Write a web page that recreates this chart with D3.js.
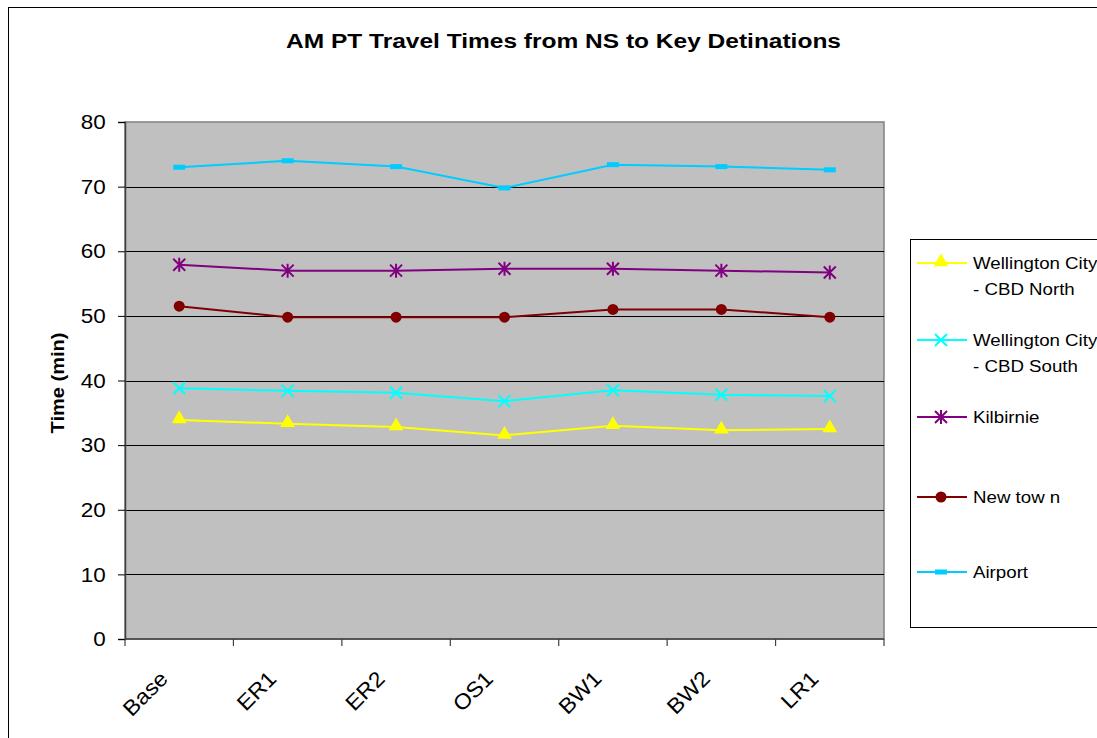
<!DOCTYPE html>
<html><head><meta charset="utf-8">
<script src="https://cdn.jsdelivr.net/npm/d3@7"></script>
<style>body{margin:0;background:#fff}svg{display:block;font-family:Arial,"Liberation Sans",sans-serif}</style>
</head><body>
<svg id="c" width="1097" height="738"></svg>
<script>
const categories = ["Base","ER1","ER2","OS1","BW1","BW2","LR1"];
const cbdNorth  = [33.9,33.3,32.8,31.5,33.0,32.3,32.5];
const cbdSouth  = [38.8,38.4,38.1,36.8,38.5,37.8,37.6];
const kilbirnie = [57.9,57.0,57.0,57.3,57.3,57.0,56.7];
const newtown   = [51.5,49.8,49.8,49.8,51.0,51.0,49.8];
const airport   = [73.0,74.0,73.1,69.8,73.4,73.1,72.6];
const yTicks = [0,10,20,30,40,50,60,70,80];
const seriesNames = ["Wellington City\n- CBD North","Wellington City\n- CBD South","Kilbirnie","New tow n","Airport"];

const series = [
  {name:seriesNames[0], values:cbdNorth, color:"#FFFF00", marker:"triangle"},
  {name:seriesNames[1], values:cbdSouth, color:"#00FFFF", marker:"x"},
  {name:seriesNames[2], values:kilbirnie, color:"#800080", marker:"star"},
  {name:seriesNames[3], values:newtown, color:"#800000", marker:"circle"},
  {name:seriesNames[4], values:airport, color:"#00CCFF", marker:"dash"}
];

const svg = d3.select("#c");
svg.append("rect").attr("x",8.5).attr("y",7.5).attr("width",1200).attr("height",800)
  .attr("fill","#fff").attr("stroke","#000").attr("stroke-width",1);

const L=125, R=884, T=122, B=639;
const x = d3.scaleBand().domain(categories).range([L,R]);
const y = d3.scaleLinear().domain([0,80]).range([B,T]);

svg.append("rect").attr("x",L).attr("y",T).attr("width",R-L).attr("height",B-T)
  .attr("fill","#C0C0C0").attr("stroke","#808080").attr("stroke-width",1.5);

// gridlines
svg.append("g").selectAll("line").data(yTicks.filter(d=>d>0&&d<80)).join("line")
  .attr("x1",L).attr("x2",R).attr("y1",d=>Math.round(y(d))+0.5).attr("y2",d=>Math.round(y(d))+0.5)
  .attr("stroke","#000").attr("stroke-width",1);

// y axis
const ya = svg.append("g").attr("transform",`translate(${L},0)`)
  .call(d3.axisLeft(y).tickValues(yTicks).tickSize(7).tickPadding(11).tickFormat(d3.format("d")));
ya.select(".domain").attr("stroke","#404040").attr("stroke-width",1.5);
ya.selectAll(".tick line").attr("stroke","#000");
ya.selectAll("text").attr("font-size",21).attr("fill","#000").attr("font-family","Arial,'Liberation Sans',sans-serif")
  .attr("transform","scale(1.07,1)");

// x axis with ticks at band boundaries
const xa = svg.append("g").attr("transform",`translate(0,${B})`);
const bounds = categories.map(c=>x(c)).concat([R]);
xa.append("line").attr("x1",L).attr("x2",R).attr("y1",0).attr("y2",0).attr("stroke","#404040").attr("stroke-width",1.5);
xa.selectAll("line.t").data(bounds).join("line").attr("class","t")
  .attr("x1",d=>d).attr("x2",d=>d).attr("y1",0).attr("y2",7).attr("stroke","#404040").attr("stroke-width",1.2);
xa.selectAll("text").data(categories).join("text")
  .attr("transform",d=>`translate(${x(d)+x.bandwidth()/2-10},${41}) rotate(-45) scale(1.08,1)`)
  .attr("text-anchor","end").attr("font-size",21.5).attr("fill","#000").text(d=>d);

// lines & markers
const cx = c => x(c)+x.bandwidth()/2;
function drawMarker(g, type, color){
  if(type==="triangle") g.append("path").attr("d",d3.symbol(d3.symbolTriangle,95)()).attr("fill",color).attr("transform","translate(0,-1)");
  else if(type==="circle") g.append("circle").attr("r",5.5).attr("fill",color);
  else if(type==="dash") g.append("rect").attr("x",-6).attr("y",-2.5).attr("width",12).attr("height",5).attr("fill",color);
  else if(type==="x") g.append("path").attr("d","M-6,-6L6,6M-6,6L6,-6").attr("stroke",color).attr("stroke-width",2);
  else if(type==="star") g.append("path").attr("d","M-6,-6L6,6M-6,6L6,-6M0,-7L0,7").attr("stroke",color).attr("stroke-width",2);
}
const line = d3.line().x((d,i)=>cx(categories[i])).y(d=>y(d));
series.forEach(s=>{
  svg.append("path").datum(s.values).attr("d",line).attr("fill","none").attr("stroke",s.color).attr("stroke-width",2);
  s.values.forEach((v,i)=>{
    const g = svg.append("g").attr("transform",`translate(${cx(categories[i])},${y(v)})`);
    drawMarker(g,s.marker,s.color);
  });
});

// title
svg.append("text").attr("x",286).attr("y",48).attr("text-anchor","start")
  .attr("font-size",20).attr("font-weight","bold").attr("fill","#000")
  .attr("textLength",555).attr("lengthAdjust","spacingAndGlyphs")
  .text("AM PT Travel Times from NS to Key Detinations");
// y title
svg.append("text").attr("transform","translate(64,383) rotate(-90)").attr("text-anchor","middle")
  .attr("font-size",18).attr("font-weight","bold").attr("fill","#000")
  .attr("textLength",101).attr("lengthAdjust","spacingAndGlyphs").text("Time (min)");

// legend
const lg = svg.append("g");
lg.append("rect").attr("x",910.5).attr("y",239.5).attr("width",300).attr("height",388)
  .attr("fill","#fff").attr("stroke","#000").attr("stroke-width",1);
const legY = [263,340,417,497,572];
series.forEach((s,i)=>{
  const g = lg.append("g").attr("transform",`translate(0,${legY[i]})`);
  g.append("line").attr("x1",917).attr("x2",967).attr("y1",0).attr("y2",0).attr("stroke",s.color).attr("stroke-width",2);
  const m = g.append("g").attr("transform","translate(941,0)");
  drawMarker(m,s.marker,s.color);
  const lines = s.name.split("\n");
  lines.forEach((t,j)=>{
    g.append("text").attr("transform",`translate(973,${j*26}) scale(1.1,1)`).attr("dy","0.35em")
      .attr("font-size",17).attr("fill","#000").text(t);
  });
});
</script>
</body></html>
